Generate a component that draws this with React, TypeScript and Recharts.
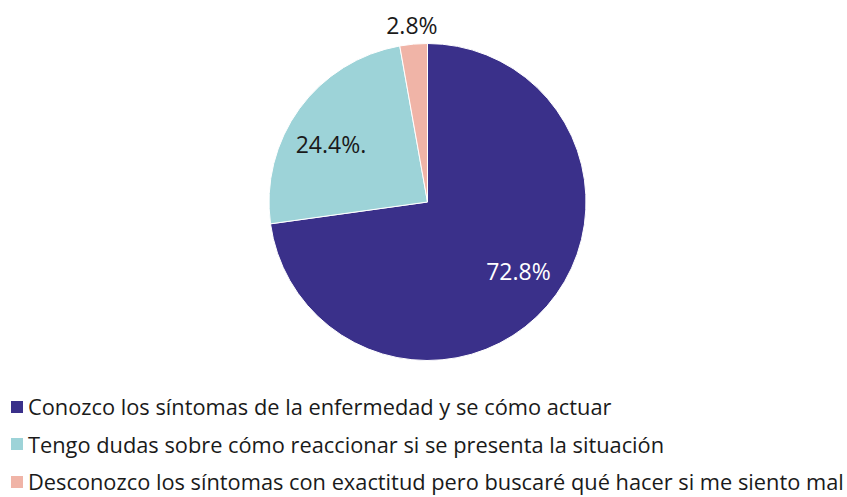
import React from "react";
import { PieChart, Pie, Cell, Legend } from "recharts";

const categories = [
  "Conozco los síntomas de la enfermedad y se cómo actuar",
  "Tengo dudas sobre cómo reaccionar si se presenta la situación",
  "Desconozco los síntomas con exactitud pero buscaré qué hacer si me siento mal",
];
const values = [72.8, 24.4, 2.8];
const labels = ["72.8%", "24.4%.", "2.8%"];
const colors = ["#3a308a", "#9dd3d8", "#f0b4a7"];

const data = categories.map((name, i) => ({ name, value: values[i], label: labels[i] }));

const RAD = Math.PI / 180;
const FONT = "'Open Sans', 'Noto Sans', sans-serif";

const renderLabel = (props: any) => {
  const { cx, cy, midAngle, outerRadius, index } = props;
  const factors = [0.66, 0.62, 1.12];
  const dxs = [12, -17, 0];
  const fills = ["#ffffff", "#1a1a1a", "#1a1a1a"];
  const r = outerRadius * factors[index];
  const x = cx + r * Math.cos(-midAngle * RAD) + dxs[index];
  const y = cy + r * Math.sin(-midAngle * RAD);
  return (
    <text x={x} y={y} fill={fills[index]} textAnchor="middle" dominantBaseline="central" fontSize={23} fontFamily={FONT}>
      {data[index].label}
    </text>
  );
};

const renderLegend = () => (
  <div style={{ fontFamily: FONT, fontSize: 21.8, color: "#1a1a1a", textAlign: "left" }}>
    {data.map((d, i) => (
      <div key={d.name} style={{ display: "flex", alignItems: "center", height: 37.5, whiteSpace: "nowrap" }}>
        <span style={{ display: "inline-block", width: 12, height: 12, background: colors[i], marginRight: 5, flexShrink: 0 }} />
        <span>{d.name}</span>
      </div>
    ))}
  </div>
);

export default function App() {
  return (
    <div style={{ position: "absolute", left: 0, top: 0, background: "#fff" }}>
      <PieChart width={847} height={497} margin={{ top: 0, left: 0, right: 0, bottom: 0 }}>
        <Pie
          data={data}
          dataKey="value"
          cx={427.5}
          cy={202}
          outerRadius={158.5}
          startAngle={90}
          endAngle={-270}
          stroke="#ffffff"
          strokeWidth={1}
          label={renderLabel}
          labelLine={false}
          isAnimationActive={false}
        >
          {data.map((d, i) => (
            <Cell key={d.name} fill={colors[i]} />
          ))}
        </Pie>
        <Legend
          content={renderLegend}
          layout="horizontal"
          verticalAlign="bottom"
          align="left"
          wrapperStyle={{ left: 11, top: 388, bottom: "auto", width: 836 }}
        />
      </PieChart>
    </div>
  );
}
